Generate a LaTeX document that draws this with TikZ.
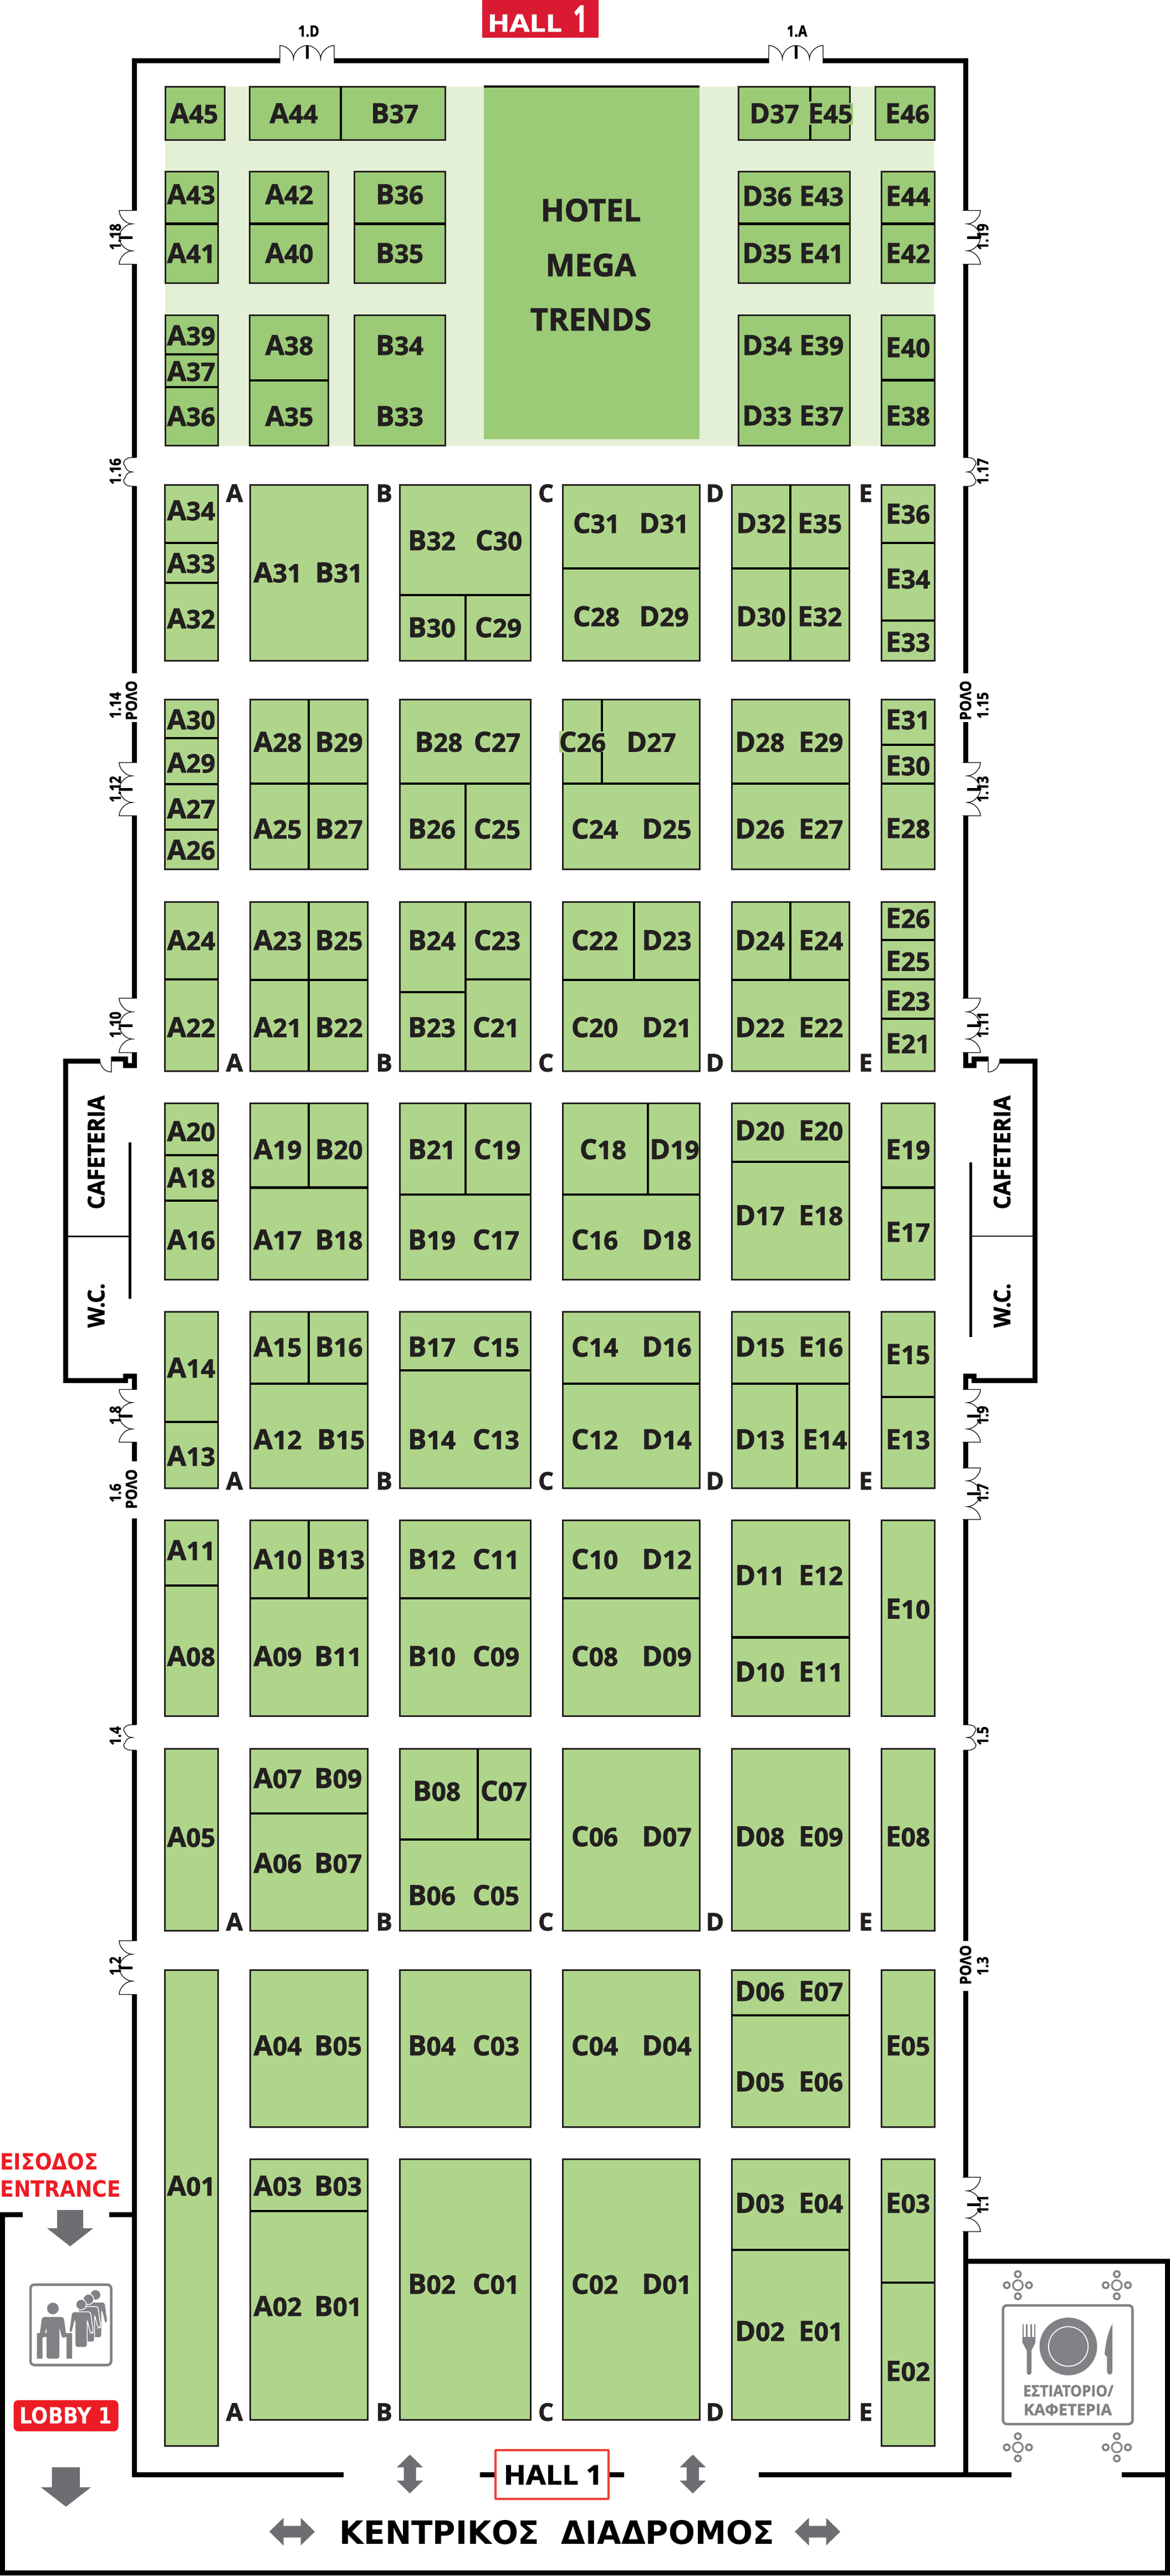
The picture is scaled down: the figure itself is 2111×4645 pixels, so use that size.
\documentclass[tikz,border=0pt]{standalone}
\usepackage{fontspec}
\setmainfont{Open Sans}[BoldFeatures={FakeBold=1.6}]
\newfontfamily\heavy{DejaVu Sans}
\definecolor{boothgreen}{HTML}{AFD58B}
\definecolor{topgreen}{HTML}{9BCB76}
\definecolor{palegreen}{HTML}{E3F0D6}
\definecolor{inkblack}{HTML}{231F20}
\definecolor{hallred}{HTML}{DA1A32}
\definecolor{brightred}{HTML}{ED1C24}
\definecolor{boxred}{HTML}{EF4136}
\definecolor{arrowgray}{HTML}{6D6E71}
\definecolor{icongray}{HTML}{808285}
\tikzset{
  booth/.style={draw=inkblack,line width=3pt,fill=boothgreen},
  topbooth/.style={draw=inkblack,line width=3pt,fill=topgreen},
  divider/.style={draw=black,line width=4.5pt},
  wall/.style={draw=black,line width=9pt,line cap=butt,line join=miter},
  leaf/.style={draw=black,line width=1.2pt},
  lab/.style={inner sep=0pt,text height=36pt,text depth=0pt,text=inkblack,font=\bfseries\fontsize{50}{50}\selectfont},
  aislelab/.style={inner sep=0pt,text height=32pt,text depth=0pt,text=inkblack,font=\bfseries\fontsize{44}{44}\selectfont},
  doorlab/.style={inner sep=0pt,text height=20pt,text depth=0pt,text=black,font=\bfseries\fontsize{28}{28}\selectfont},
  vlab/.style={doorlab,rotate=90},
  bigrot/.style={inner sep=0pt,text=black,rotate=90,font=\bfseries\fontsize{40}{40}\selectfont},
  hotel/.style={inner sep=0pt,text height=40pt,text depth=0pt,text=inkblack,font=\bfseries\fontsize{56}{56}\selectfont},
  redtext/.style={inner sep=0pt,text=brightred,anchor=west,font=\heavy\bfseries\fontsize{40}{40}\selectfont},
  grayarrow/.style={fill=arrowgray,draw=none},
  icon/.style={fill=icongray,draw=none},
  iconline/.style={draw=icongray,line width=4.5pt,rounded corners=7pt},
}
\def\bl(#1,#2)#3#4#5{\node[lab] (#3#4#5) at (#1,#2) {#3{\fontsize{46}{46}\selectfont #4#5}};}
\def\bx(#1,#2)(#3,#4){\draw[booth] (#1,#2) rectangle (#3,#4);}
\def\tx(#1,#2)(#3,#4){\draw[topbooth] (#1,#2) rectangle (#3,#4);}
\def\hd#1#2#3{\draw[divider] (#1,#3) -- (#2,#3);}
\def\vd#1#2#3{\draw[divider] (#1,#2) -- (#1,#3);}
% double door, local x along the wall, local y outward
\newcommand{\ddoor}[5]{\begin{scope}[shift={(#1,#2)},x={(#3)},y={(#4)}]
  \pgfmathsetmacro{\wa}{#5}\pgfmathsetmacro{\wb}{#5/2}\pgfmathsetmacro{\wc}{#5*.225}
  \fill[white] (-\wa,-5.5) rectangle (\wa,5.5);
  \draw[leaf] (-\wa,-5) -- (-\wa,27) .. controls ({-\wa+\wc},27) and (-\wb,16) .. (-\wb,3)
     .. controls (-\wb,16) and (-\wc,27) .. (0,27) .. controls (\wc,27) and (\wb,16) .. (\wb,3)
     .. controls (\wb,16) and ({\wa-\wc},27) .. (\wa,27) -- (\wa,-5);
  \draw[black,line width=5pt] (0,3) -- (0,27);
\end{scope}}
\newcommand{\sdoor}[5]{\begin{scope}[shift={(#1,#2)},x={(#3)},y={(#4)}]
  \pgfmathsetmacro{\wa}{#5}\pgfmathsetmacro{\wb}{#5/2}
  \fill[white] (-\wa,-5.5) rectangle (\wa,5.5);
  \draw[leaf] (-\wa,-4) -- (-\wa,4) .. controls (-\wa,20) and (-\wb,20) .. (-\wb,18) .. controls (-\wb,16) and (0,16) .. (0,3)
     .. controls (0,16) and (\wb,16) .. (\wb,18) .. controls (\wb,20) and (\wa,20) .. (\wa,4) -- (\wa,-4);
\end{scope}}
\def\up{1pt,0pt}
\def\rgt{0pt,1pt}
\def\along{0pt,-1pt}
\def\outl{-1pt,0pt}
\def\outr{1pt,0pt}
\newcommand{\person}[2]{\begin{scope}[shift={(#1,#2)}]
  \filldraw[fill=icongray,draw=white,line width=1.5pt,rounded corners=4pt] (-17,13) -- (17,13) -- (22,50) -- (17,52) -- (11,28) -- (11,77) -- (-11,77) -- (-11,28) -- (-17,52) -- (-22,50) -- cycle;
  \filldraw[fill=icongray,draw=white,line width=1.5pt] (0,0) circle (9.5);
\end{scope}}
\newcommand{\tables}[2]{\begin{scope}[shift={(#1,#2)}]
  \foreach \dx/\dy in {0/0} \draw[icongray,line width=3pt,fill=white] (\dx,\dy) circle (9);
  \foreach \dx/\dy in {-20/0,20/0,0/-20,0/20} \draw[icongray,line width=3.5pt,fill=white] (\dx,\dy) circle (5.5);
\end{scope}}
\begin{document}
\begin{tikzpicture}[x=1pt,y=-1pt]
\useasboundingbox (0,0) rectangle (2111,4645);
\fill[white] (0,0) rectangle (2111,4645);
% ---------- hotel zone
\fill[palegreen] (298,156) rectangle (1685,804);
\fill[topgreen] (873,156) rectangle (1262,792);
\draw[black,line width=4pt] (873,156) -- (1262,156);
% ---------- walls
\draw[wall] (242,1214) -- (242,109) -- (1742,109) -- (1742,1214);
\draw[wall] (242,1302) -- (242,1805);
\draw[wall] (1742,1302) -- (1742,1805);
\draw[wall] (242,1893) -- (242,1921) -- (226,1921) -- (226,1909) -- (201,1909);
\draw[wall] (180,1913) -- (118,1913) -- (118,2489) -- (226,2489) -- (226,2481) -- (242,2481) -- (242,2511);
\draw[wall] (242,2596) -- (242,2635);
\draw[wall] (242,2738) -- (242,4462) -- (620,4462);
\draw[wall] (41,3993) -- (4.5,3993) -- (4.5,4639.5) -- (2106,4639.5) -- (2106,4462) -- (2024,4462);
\draw[wall] (197,3993) -- (242,3993);
\draw[wall] (1742,1893) -- (1742,1921) -- (1757,1921) -- (1757,1909) -- (1783,1909);
\draw[wall] (1804,1913) -- (1867,1913) -- (1867,2489) -- (1757,2489) -- (1757,2481) -- (1742,2481) -- (1742,2511);
\draw[wall] (1742,2596) -- (1742,2647);
\draw[wall] (1742,2740) -- (1742,3500);
\draw[wall] (1742,3590) -- (1742,4462);
\draw[wall] (1742,4077) -- (2106,4077) -- (2106,4462);
\draw[wall] (866,4462) -- (894,4462);
\draw[wall] (1098,4462) -- (1126,4462);
\draw[wall] (1369,4462) -- (1825,4462);
% cafeteria partitions
\draw[black,line width=5pt] (234,2060) -- (234,2342);
\draw[black,line width=2.5pt] (118,2229.5) -- (234,2229.5);
\draw[black,line width=5.5pt] (1751.5,2096) -- (1751.5,2411);
\draw[black,line width=2.5pt] (1751.5,2229) -- (1867,2229);
\draw[leaf] (201,1905) -- (201,1933) .. controls (190,1933) and (180,1924) .. (180,1909);
\draw[leaf] (1783,1905) -- (1783,1933) .. controls (1794,1933) and (1804,1924) .. (1804,1909);
% ---------- doors
\ddoor{554}{109}{\up}{\rgt}{49}
\ddoor{1436}{109}{\up}{\rgt}{49}
\ddoor{242}{428}{\along}{\outl}{48.5}
\ddoor{1742}{428}{\along}{\outr}{48.5}
\sdoor{242}{851}{\along}{\outl}{26}
\sdoor{1742}{851}{\along}{\outr}{26}
\ddoor{242}{1423}{\along}{\outl}{48}
\ddoor{1742}{1423}{\along}{\outr}{48}
\ddoor{242}{1849}{\along}{\outl}{49}
\ddoor{1742}{1849}{\along}{\outr}{49}
\ddoor{242}{2553}{\along}{\outl}{47.5}
\ddoor{1742}{2553}{\along}{\outr}{47.5}
\ddoor{1742}{2693.5}{\along}{\outr}{46.5}
\sdoor{242}{3133}{\along}{\outl}{23}
\sdoor{1742}{3133}{\along}{\outr}{23}
\ddoor{242}{3548}{\along}{\outl}{48.5}
\ddoor{1742}{3975}{\along}{\outr}{49}
% door labels
\node[doorlab] (d1D) at (557,56) {\scalebox{.85}[1]{1.D}};
\node[doorlab] (d1A) at (1438,56) {\scalebox{.85}[1]{1.A}};
\foreach \nm/\xx/\yy in {1.18/208/427,1.16/208/850,1.14/208/1272,1.12/208/1423,1.10/208/1848,1.8/208/2552,1.6/208/2692,1.4/208/3130,1.2/208/3545,
  1.19/1773/427,1.17/1773/850,1.15/1773/1272,1.13/1773/1423,1.11/1773/1848,1.9/1773/2552,1.7/1773/2692,1.5/1773/3130,1.3/1773/3545,1.1/1773/3975}
  {\node[vlab] (door\xx\yy) at (\xx,\yy) {\scalebox{.85}[1]{\nm}};}
\foreach \xx/\yy in {237/1263,237/2685,1742/1263,1742/3543}
  {\node[vlab] (rollo\xx\yy) at (\xx,\yy) {\scalebox{.9}[1]{ΡΟΛΟ}};}
% ---------- red hall sign
\fill[hallred] (870,0) rectangle (1080,68);
\node[inner sep=0pt,text=white] (hallA) at (947,41.5) {\bfseries\resizebox{134pt}{31pt}{HALL}};
\node[inner sep=0pt,text=white] (hallB) at (1047,33.5) {\bfseries\resizebox{26pt}{47pt}{1}};
% ---------- top booths
\tx(298,156)(405,252) \tx(450,156)(803,252) \tx(1332,156)(1533,252) \tx(1579,156)(1686,252)
\tx(298,309)(393,510) \tx(450,309)(592,510) \tx(639,309)(803,510) \tx(1332,309)(1533,510) \tx(1590,309)(1686,510)
\tx(298,568)(393,803) \tx(450,568)(592,803) \tx(639,568)(803,803) \tx(1332,568)(1533,803) \tx(1590,568)(1686,803)
\vd{615}{156}{252} \vd{1462}{156}{183} \vd{1462}{225}{252}
\hd{298}{393}{403.5} \hd{450}{592}{403.5} \hd{639}{803}{403.5} \hd{1332}{1533}{403.5} \hd{1590}{1686}{403.5}
\hd{298}{393}{639} \hd{298}{393}{698} \hd{450}{592}{686} \hd{1590}{1686}{685.5}
\fill[topgreen] (1530,186) rectangle (1539,225);
\bl(350,204)A45 \bl(530,204)A44 \bl(712,204)B37 \bl(1397,204)D37 \bl(1498,204)E45 \bl(1637,204)E46
\bl(345,350)A43 \bl(345,456)A41 \bl(522,350)A42 \bl(522,456)A40 \bl(721,350)B36 \bl(721,456)B35
\bl(1384,353)D36 \bl(1482,353)E43 \bl(1384,456)D35 \bl(1482,456)E41 \bl(1638,353)E44 \bl(1638,456)E42
\bl(345,604.5)A39 \bl(345,669)A37 \bl(345,750)A36 \bl(522,622)A38 \bl(522,750)A35 \bl(721,622)B34 \bl(721,750)B33
\bl(1384,622)D34 \bl(1482,622)E39 \bl(1384,749)D33 \bl(1482,749)E37 \bl(1638,626)E40 \bl(1638,749)E38
\node[hotel] (hotelA) at (1066,379) {HOTEL};
\node[hotel] (hotelB) at (1066,478) {MEGA};
\node[hotel] (hotelC) at (1066,576) {TRENDS};
% ---------- main booths
\foreach \ya/\yb in {874/1191,1261/1567,1626/1931,1989/2307,2365/2683,2741/3094,3153/3481}
 {\bx(297.5,\ya)(393,\yb) \bx(1590,\ya)(1686,\yb)}
\foreach \ya/\yb in {874/1191,1261/1567,1626/1931,1989/2307,2365/2683,2741/3094,3153/3481,3552/3835,3893/4363}
 {\bx(451,\ya)(663,\yb) \bx(721,\ya)(957,\yb) \bx(1015,\ya)(1262,\yb) \bx(1320,\ya)(1532,\yb)}
\bx(297.5,3552)(393,4410) \bx(1590,3552)(1686,3835) \bx(1590,3893)(1686,4410)
% row 1
\hd{297.5}{393}{979} \hd{297.5}{393}{1051}
\hd{721}{957}{1073} \vd{840}{1073}{1191}
\hd{1015}{1262}{1025}
\hd{1320}{1532}{1025} \vd{1426}{874}{1191}
\hd{1590}{1686}{979} \hd{1590}{1686}{1119}
\bl(345,920)A34 \bl(345,1015)A33 \bl(345,1115)A32 \bl(501,1032)A31 \bl(611.5,1032)B31
\bl(779,974)B32 \bl(900,974)C30 \bl(779,1131)B30 \bl(899,1131)C29
\bl(1076,943)C31 \bl(1198,943)D31 \bl(1076,1111)C28 \bl(1198,1111)D29
\bl(1373,943)D32 \bl(1479,943)E35 \bl(1373,1111)D30 \bl(1479,1111)E32
\bl(1638,926)E36 \bl(1638,1043)E34 \bl(1638,1157)E33
% row 2
\hd{297.5}{393}{1331} \hd{297.5}{393}{1414} \hd{297.5}{393}{1496}
\hd{451}{663}{1413} \vd{557}{1261}{1567}
\hd{721}{957}{1413} \vd{840}{1413}{1567}
\hd{1015}{1262}{1413} \vd{1086}{1261}{1319} \vd{1086}{1356}{1413}
\hd{1320}{1532}{1413}
\hd{1590}{1686}{1343} \hd{1590}{1686}{1413}
\fill[boothgreen] (1009,1318) rectangle (1018,1357);
\bl(345,1297)A30 \bl(345,1375)A29 \bl(345,1457.5)A27 \bl(345,1532)A26
\bl(501,1337.5)A28 \bl(611.5,1337.5)B29 \bl(501,1494)A25 \bl(611.5,1494)B27
\bl(791.5,1337.5)B28 \bl(897,1337.5)C27 \bl(779,1494)B26 \bl(897,1494)C25
\bl(1051,1337.5)C26 \bl(1175,1337.5)D27 \bl(1073,1494)C24 \bl(1203,1494)D25
\bl(1371,1337.5)D28 \bl(1481,1337.5)E29 \bl(1371,1494)D26 \bl(1481,1494)E27
\bl(1638,1297)E31 \bl(1638,1380)E30 \bl(1638,1493)E28
% row 3
\hd{297.5}{393}{1766}
\hd{451}{663}{1767} \vd{557}{1626}{1931}
\vd{840}{1626}{1931} \hd{721}{840}{1789} \hd{840}{957}{1766}
\hd{1015}{1262}{1767} \vd{1144}{1626}{1767}
\hd{1320}{1532}{1767} \vd{1426}{1626}{1767}
\hd{1590}{1686}{1695} \hd{1590}{1686}{1766} \hd{1590}{1686}{1837}
\bl(345,1695)A24 \bl(345,1852)A22 \bl(501,1695)A23 \bl(611.5,1695)B25 \bl(501,1852)A21 \bl(611.5,1852)B22
\bl(779,1695)B24 \bl(897,1695)C23 \bl(779,1852)B23 \bl(895,1852)C21
\bl(1073,1695)C22 \bl(1203,1695)D23 \bl(1073,1852)C20 \bl(1203,1852)D21
\bl(1371,1695)D24 \bl(1481,1695)E24 \bl(1371,1852)D22 \bl(1481,1852)E22
\bl(1638,1655)E26 \bl(1638,1732.5)E25 \bl(1638,1804)E23 \bl(1638,1881)E21
% row 4
\hd{297.5}{393}{2083} \hd{297.5}{393}{2165}
\hd{451}{663}{2141.5} \vd{557}{1989}{2141.5}
\hd{721}{957}{2154} \vd{840}{1989}{2154}
\hd{1015}{1262}{2154} \vd{1169}{1989}{2154}
\hd{1320}{1532}{2095}
\hd{1590}{1686}{2141.5}
\bl(345,2039.5)A20 \bl(345,2123)A18 \bl(345,2235)A16
\bl(501,2072)A19 \bl(611.5,2072)B20 \bl(501,2235)A17 \bl(611.5,2235)B18
\bl(779,2072)B21 \bl(897,2072)C19 \bl(779,2235)B19 \bl(895,2235)C17
\bl(1088,2072)C18 \bl(1217,2072)D19 \bl(1073,2235)C16 \bl(1203,2235)D18
\bl(1371,2038)D20 \bl(1481,2038)E20 \bl(1371,2191)D17 \bl(1481,2191)E18
\bl(1638,2072)E19 \bl(1638,2221)E17
% row 5
\hd{297.5}{393}{2564}
\hd{451}{663}{2495} \vd{557}{2365}{2495}
\hd{721}{957}{2471}
\hd{1015}{1262}{2495}
\hd{1320}{1532}{2495} \vd{1438}{2495}{2683}
\hd{1590}{1686}{2519}
\bl(345,2466)A14 \bl(345,2625)A13
\bl(501,2428)A15 \bl(611.5,2428)B16 \bl(501,2595)A12 \bl(615,2595)B15
\bl(779,2428)B17 \bl(895,2428)C15 \bl(779,2595)B14 \bl(895,2595)C13
\bl(1073,2428)C14 \bl(1203,2428)D16 \bl(1073,2595)C12 \bl(1203,2595)D14
\bl(1371,2428)D15 \bl(1481,2428)E16 \bl(1371,2595)D13 \bl(1488,2595)E14
\bl(1638,2441.5)E15 \bl(1638,2595)E13
% row 6
\hd{297.5}{393}{2859}
\hd{451}{663}{2882} \vd{557}{2741}{2882}
\hd{721}{957}{2882}
\hd{1015}{1262}{2882}
\hd{1320}{1532}{2952.5}
\bl(345,2795)A11 \bl(345,2986)A08
\bl(501,2811)A10 \bl(615,2811)B13 \bl(501,2986)A09 \bl(610,2986)B11
\bl(779,2811)B12 \bl(895,2811)C11 \bl(779,2986)B10 \bl(895,2986)C09
\bl(1073,2811)C10 \bl(1203,2811)D12 \bl(1073,2986)C08 \bl(1203,2986)D09
\bl(1371,2840)D11 \bl(1481,2840)E12 \bl(1371,3014)D10 \bl(1481,3014)E11
\bl(1638,2900.5)E10
% row 7
\hd{451}{663}{3270}
\hd{721}{957}{3317} \vd{862}{3153}{3317}
\bl(345,3312)A05 \bl(501,3206)A07 \bl(610,3206)B09 \bl(501,3359)A06 \bl(610,3359)B07
\bl(788,3229)B08 \bl(909,3229)C07 \bl(779,3417)B06 \bl(895,3417)C05
\bl(1073,3311)C06 \bl(1203,3311)D07 \bl(1371,3311)D08 \bl(1481,3311)E09 \bl(1638,3311)E08
% row 8
\hd{1320}{1532}{3634}
\bl(501,3688)A04 \bl(610,3688)B05 \bl(779,3688)B04 \bl(895,3688)C03
\bl(1073,3688)C04 \bl(1203,3688)D04 \bl(1371,3590)D06 \bl(1481,3590)E07 \bl(1371,3753)D05 \bl(1481,3753)E06
\bl(1638,3688)E05 \bl(345,3941)A01
% row 9
\hd{451}{663}{3987}
\hd{1320}{1532}{4057}
\hd{1590}{1686}{4116}
\bl(501,3941)A03 \bl(610,3941)B03 \bl(501,4158)A02 \bl(610,4158)B01
\bl(779,4118)B02 \bl(895,4118)C01 \bl(1073,4118)C02 \bl(1203,4118)D01
\bl(1371,3972)D03 \bl(1481,3972)E04 \bl(1371,4203)D02 \bl(1481,4203)E01
\bl(1638,3972)E03 \bl(1638,4275)E02
% aisle letters
\foreach \yy in {889,1916,2670,3465,4349}
 \foreach \ll/\xx in {A/423,B/693,C/985,D/1290,E/1562}
  {\node[aislelab] (aisle\ll\yy) at (\xx,\yy) {\ll};}
% ---------- cafeteria labels
\node[bigrot] (cafA) at (173.5,2078) {\resizebox{205pt}{30pt}{CAFETERIA}};
\node[bigrot] (wcA) at (173.5,2354) {\resizebox{80pt}{30pt}{W.C.}};
\node[bigrot] (cafB) at (1808,2078) {\resizebox{205pt}{30pt}{CAFETERIA}};
\node[bigrot] (wcB) at (1808,2354) {\resizebox{80pt}{30pt}{W.C.}};
% ---------- bottom
\node[inner sep=0pt,text=boxred,draw=boxred,line width=4pt,minimum width=204pt,minimum height=88pt,fill=white,rounded corners=1pt] (hallbox) at (996,4462) {};
\node[inner sep=0pt,text=black] (halltext) at (998,4462.5) {\bfseries\resizebox{178pt}{35pt}{HALL 1}};
\node[inner sep=0pt,text=black] (corridor) at (1005,4566.5) {\heavy\bfseries\resizebox{784pt}{43pt}{ΚΕΝΤΡΙΚΟΣ\hspace{0.7em}ΔΙΑΔΡΟΜΟΣ}};
\foreach \cx in {739.5,1250}
 {\fill[grayarrow] (\cx,4426) -- (\cx+23.5,4449) -- (\cx+11,4449) -- (\cx+11,4473) -- (\cx+23.5,4473) -- (\cx,4496) -- (\cx-23.5,4473) -- (\cx-11,4473) -- (\cx-11,4449) -- (\cx-23.5,4449) -- cycle;}
\foreach \cx in {527,1475}
 {\fill[grayarrow] (\cx-41,4565) -- (\cx-15.5,4540) -- (\cx-15.5,4554.5) -- (\cx+15.5,4554.5) -- (\cx+15.5,4540) -- (\cx+41,4565) -- (\cx+15.5,4590) -- (\cx+15.5,4575.5) -- (\cx-15.5,4575.5) -- (\cx-15.5,4590) -- cycle;}
% ---------- entrance and lobby
\node[redtext] (eisodos) at (0,3898) {\resizebox{177pt}{30pt}{ΕΙΣΟΔΟΣ}};
\node[redtext] (entrance) at (0,3947) {\resizebox{218pt}{30pt}{ENTRANCE}};
\fill[grayarrow] (103,3985) -- (150,3985) -- (150,4018) -- (168,4018) -- (126.5,4050.5) -- (85,4018) -- (103,4018) -- cycle;
\fill[grayarrow] (93.5,4449) -- (144,4449) -- (144,4485) -- (164,4485) -- (119,4520) -- (74,4485) -- (93.5,4485) -- cycle;
\node[fill=brightred,inner sep=0pt,rounded corners=8pt,minimum width=189pt,minimum height=56pt,text=white] (lobby) at (119,4356) {\heavy\bfseries\resizebox{167pt}{30pt}{LOBBY 1}};
% elevator icon
\draw[iconline] (55,4119.5) rectangle (200.5,4264.5);
\person{172.4}{4138}
\person{159.7}{4146}
\person{146.4}{4155.6}
\fill[icon] (95.4,4162.6) circle (10.5);
\fill[icon,rounded corners=4pt] (76,4178) -- (115,4178) -- (120,4214) -- (112,4216) -- (107,4196) -- (107,4253) -- (84,4253) -- (84,4196) -- (79,4216) -- (71,4214) -- cycle;
\fill[icon] (66.5,4207) -- (84,4207) -- (84,4214) -- (76.5,4214) -- (76.5,4253) -- (66.5,4253) -- cycle;
\fill[icon] (130,4207) -- (112,4207) -- (112,4214) -- (120,4214) -- (120,4253) -- (130,4253) -- cycle;
% restaurant icon
\draw[iconline] (1809.6,4157) rectangle (2043.4,4371);
\fill[icon] (1927.5,4231) circle (52);
\draw[white,line width=1.8pt] (1927.5,4231) circle (35.7);
\foreach \tx in {1846,1852.5,1860.5,1867} \draw[icongray,line width=2.5pt] (\tx,4190.6) -- (\tx,4224);
\fill[icon] (1844.7,4214) -- (1868.2,4214) -- (1868.2,4224) -- (1861,4238) -- (1861,4278) arc[start angle=0,end angle=180,radius=4.25] -- (1852.5,4238) -- (1844.7,4224) -- cycle;
\fill[icon] (2007,4190.6) -- (2007,4277) arc[start angle=0,end angle=180,radius=4.8] -- (1997.4,4250) -- (1993,4245) .. controls (1995,4220) and (2002,4198) .. (2007,4190.6) -- cycle;
\node[inner sep=0pt,text=icongray] (rest1) at (1927.5,4311) {\bfseries\resizebox{163pt}{20.5pt}{ΕΣΤΙΑΤΟΡΙΟ/}};
\node[inner sep=0pt,text=icongray] (rest2) at (1926.5,4345) {\bfseries\resizebox{159pt}{20.5pt}{ΚΑΦΕΤΕΡΙΑ}};
\tables{1836.5}{4120.6}
\tables{2015}{4120.6}
\tables{1836.5}{4413}
\tables{2015}{4413}
\end{tikzpicture}
\end{document}
